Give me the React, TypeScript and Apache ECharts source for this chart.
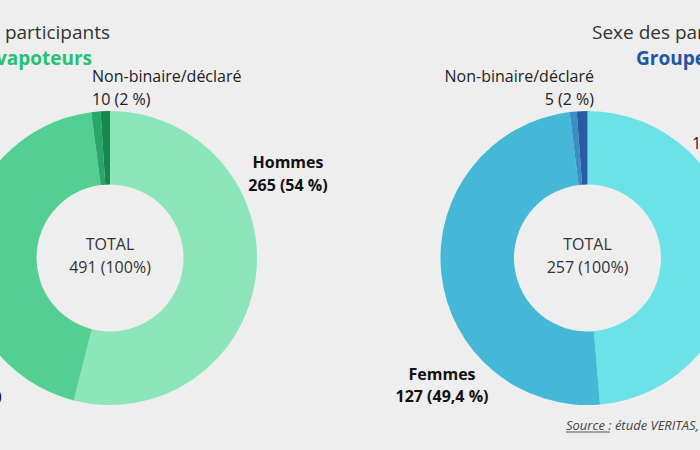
import React, { useEffect, useRef } from "react";
import * as echarts from "echarts";

const categories = ["Hommes", "Femmes", "Non-binaire", "Non déclaré"];
const vapoteurs = [265, 216, 5, 5];
const fumeurs = [125, 127, 2, 3];
const vapPct = ["54 %", "44 %", "2 %"];
const fumPct = ["48,6 %", "49,4 %", "2 %"];
const groupNames = ["Groupe vapoteurs", "Groupe fumeurs"];
const title = "Sexe des participants";
const nbLabel = "Non-binaire/déclaré";
const sourceText = "Source : étude VERITAS, n = 748";

const vapColors = ["#8de6ba", "#53cf92", "#2aa768", "#13894a"];
const fumColors = ["#6ae2e8", "#45b8d8", "#3a8ec7", "#2a5aa2"];
const FONT = '"Open Sans", "Noto Sans", sans-serif';

export default function App() {
  const ref = useRef<HTMLDivElement>(null);
  useEffect(() => {
    if (!ref.current) return;
    const chart = echarts.init(ref.current, null, { renderer: "svg" });
    const sum = (a: number[]) => a.reduce((s, v) => s + v, 0);
    const vTot = sum(vapoteurs);
    const fTot = sum(fumeurs);
    const vNB = vapoteurs[2] + vapoteurs[3];
    const fNB = fumeurs[2] + fumeurs[3];

    const txt = (
      text: string,
      x: number,
      y: number,
      align: string,
      size: number,
      weight: string = "normal",
      fill: string = "#222",
      style: string = "normal"
    ) => ({
      type: "text",
      silent: true,
      style: {
        text,
        x,
        y,
        textAlign: align,
        textVerticalAlign: "middle",
        fill,
        font: `${style} ${weight} ${size}px ${FONT}`,
      },
    });

    const mkPie = (vals: number[], colors: string[], cx: number) => ({
      type: "pie",
      center: [cx, 258],
      radius: [73.5, 147],
      startAngle: 90,
      clockwise: true,
      label: { show: false },
      labelLine: { show: false },
      emphasis: { disabled: true },
      silent: true,
      itemStyle: { borderWidth: 0 },
      data: vals.map((v, i) => ({
        name: categories[i],
        value: v,
        itemStyle: { color: colors[i] },
      })),
    });

    chart.setOption({
      animation: false,
      backgroundColor: "#eeeeee",
      series: [mkPie(vapoteurs, vapColors, 110), mkPie(fumeurs, fumColors, 587.5)],
      graphic: [
        // Titles
        txt(title, 110, 32, "right", 19, "normal", "#333"),
        txt(groupNames[0], 92, 58, "right", 19, "bold", "#26c271"),
        txt(title, 592, 32, "left", 19, "normal", "#333"),
        txt(groupNames[1], 636, 58, "left", 19, "bold", "#2156a4"),
        // Center totals
        txt("TOTAL", 110, 244, "center", 16, "normal", "#333"),
        txt(`${vTot} (100%)`, 110, 267, "center", 16, "normal", "#333"),
        txt("TOTAL", 587.5, 244, "center", 16, "normal", "#333"),
        txt(`${fTot} (100%)`, 587.5, 267, "center", 16, "normal", "#333"),
        // Left labels
        txt(nbLabel, 92, 76, "left", 16),
        txt(`${vNB} (${vapPct[2]})`, 92, 99, "left", 16),
        txt(categories[0], 288, 162, "center", 16, "bold", "#111"),
        txt(`${vapoteurs[0]} (${vapPct[0]})`, 288, 185, "center", 16, "bold", "#111"),
        txt(categories[1], -38, 373, "center", 16, "bold", "#111"),
        txt(`${vapoteurs[1]} (${vapPct[1]})`, -38, 396, "center", 16, "bold", "#111"),
        // Right labels
        txt(nbLabel, 594, 76, "right", 16),
        txt(`${fNB} (${fumPct[2]})`, 594, 99, "right", 16),
        txt(categories[0], 740, 120, "center", 16, "bold", "#111"),
        txt(`${fumeurs[0]} (${fumPct[0]})`, 692, 143, "left", 16, "normal", "#222"),
        txt(categories[1], 442, 374, "center", 16, "bold", "#111"),
        txt(`${fumeurs[1]} (${fumPct[1]})`, 442, 396, "center", 16, "bold", "#111"),
        // Source
        txt(sourceText, 566, 425, "left", 13, "normal", "#444", "italic"),
        {
          type: "line",
          silent: true,
          shape: { x1: 566, y1: 432, x2: 610, y2: 432 },
          style: { stroke: "#555", lineWidth: 1 },
        },
      ],
    });
    return () => chart.dispose();
  }, []);
  return (
    <div
      ref={ref}
      style={{ position: "fixed", left: 0, top: 0, width: 700, height: 450 }}
    />
  );
}
